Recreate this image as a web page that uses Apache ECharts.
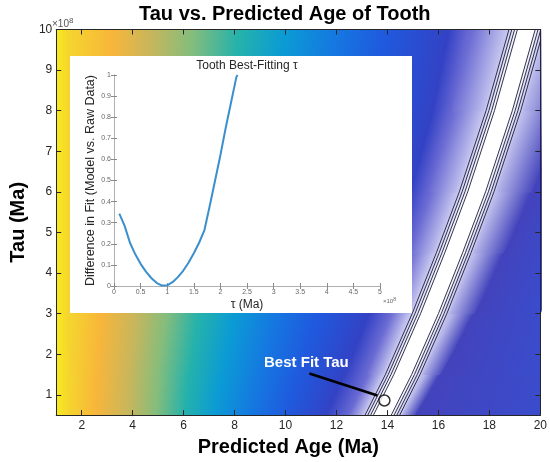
<!DOCTYPE html>
<html><head><meta charset="utf-8">
<script src="https://cdn.jsdelivr.net/npm/echarts/dist/echarts.min.js"></script>
<style>html,body{margin:0;padding:0;background:#fff}#c{width:550px;height:462px}</style>
</head><body><div id="c"></div>
<script>
// ---------- main panel: tick labels ----------
const xTicks = [2, 4, 6, 8, 10, 12, 14, 16, 18, 20];
const yTicks = [1, 2, 3, 4, 5, 6, 7, 8, 9, 10];

// ---------- colour field, read as iso-colour lines (x position at each tau) ----------
const tauSamples = [0.5, 1.5, 3, 4.5, 6, 8, 10];
const ridgeX = [13.8, 14.6, 15.65, 16.6, 17.5, 18.55, 19.45];
const levelColors = [
  '#f8ea1e', '#f5d52e', '#f8b63a', '#c8b65c', '#86bd7b', '#25b2ab', '#0b9bd4',
  '#1578e1', '#1f5ade', '#3342c5', '#6a6ad3', '#c2c2ee', '#ffffff', '#ffffff',
  '#b8b8ea', '#4343bc', '#3a4ccc'
];
const levelX = [
  [1, 1, 1, 1, 1, 1, 1],
  [1.5, 1.5, 1.5, 1.5, 1.5, 1.5, 1.5],
  [2.5, 2.6, 2.75, 2.9, 3.0, 3.1, 3.2],
  [3.8, 3.9, 4.1, 4.25, 4.4, 4.6, 4.7],
  [4.9, 5.0, 5.3, 5.6, 5.8, 6.1, 6.3],
  [6.0, 6.2, 6.6, 7.0, 7.4, 7.8, 8.2],
  [7.2, 7.5, 8.0, 8.5, 9.0, 9.5, 10.0],
  [8.6, 9.0, 9.6, 10.2, 10.8, 11.4, 12.0],
  [10.0, 10.5, 11.2, 11.9, 12.6, 13.3, 13.9],
  [11.6, 12.3, 13.3, 14.1, 14.9, 15.8, 16.4],
  [12.5, 13.2, 14.1, 14.9, 15.65, 16.55, 17.25],
  [13.05, 13.85, 14.9, 15.85, 16.75, 17.8, 18.7],
  [13.48, 14.28, 15.33, 16.28, 17.18, 18.23, 19.13],
  [14.12, 14.92, 15.97, 16.92, 17.82, 18.87, 19.77],
  [14.6, 15.4, 16.45, 17.4, 18.3, 19.35, 20.25],
  [15.1, 16.1, 17.45, 18.6, 19.7, 20.95, 22.05],
  [20, 20, 20, 20.6, 21.7, 23, 24]
];
// black contour lines around the best-fit ridge (x offset from ridge)
const contourOffsets = [-0.68, -0.57, -0.46, -0.35, 0.35, 0.46, 0.57, 0.68];
const bestFit = [13.88, 0.86];

// ---------- inset: Tooth Best-Fitting tau ----------
const insetTau = [0.1, 0.2, 0.3, 0.4, 0.5, 0.6, 0.7, 0.8, 0.9, 1.0, 1.1, 1.2, 1.3, 1.4, 1.5, 1.6, 1.7, 1.8, 1.9, 2.0, 2.1, 2.2, 2.3, 2.32];
const insetFit = [0.343, 0.285, 0.205, 0.15, 0.105, 0.068, 0.038, 0.015, 0.002, 0.003, 0.018, 0.042, 0.072, 0.11, 0.155, 0.205, 0.265, 0.38, 0.5, 0.62, 0.75, 0.87, 0.99, 1.0];
const insetXTicks = [0, 0.5, 1, 1.5, 2, 2.5, 3, 3.5, 4, 4.5, 5];
const insetYTicks = [0, 0.1, 0.2, 0.3, 0.4, 0.5, 0.6, 0.7, 0.8, 0.9, 1];

const FONT = '"Liberation Sans", Arial, Helvetica, sans-serif';
const AX = '#262626';

const bandData = [];
for (let i = 0; i < levelX.length - 1; i++) {
  for (let j = 0; j < tauSamples.length - 1; j++) {
    bandData.push([levelX[i][j], tauSamples[j], levelX[i][j + 1], tauSamples[j + 1], levelX[i + 1][j], levelX[i + 1][j + 1], i]);
  }
}

function renderBand(params, api) {
  const A0 = api.coord([api.value(0), api.value(1)]);
  const A1 = api.coord([api.value(2), api.value(3)]);
  const B0 = api.coord([api.value(4), api.value(1)]);
  const B1 = api.coord([api.value(5), api.value(3)]);
  const i = api.value(6);
  let dx = ((A1[0] - A0[0]) + (B1[0] - B0[0])) / 2;
  let dy = ((A1[1] - A0[1]) + (B1[1] - B0[1])) / 2;
  const len = Math.hypot(dx, dy) || 1; dx /= len; dy /= len;
  const nx = -dy, ny = dx;
  const mA = [(A0[0] + A1[0]) / 2, (A0[1] + A1[1]) / 2];
  const mB = [(B0[0] + B1[0]) / 2, (B0[1] + B1[1]) / 2];
  const proj = (mB[0] - mA[0]) * nx + (mB[1] - mA[1]) * ny;
  const grad = new echarts.graphic.LinearGradient(mA[0], mA[1], mA[0] + nx * proj, mA[1] + ny * proj,
    [{offset: 0, color: levelColors[i]}, {offset: 1, color: levelColors[i + 1]}], true);
  return {
    type: 'polygon',
    shape: {points: [A0, A1, B1, B0]},
    style: {fill: grad, stroke: grad, lineWidth: 1}
  };
}

const contourSeries = contourOffsets.map(off => ({
  type: 'line', xAxisIndex: 0, yAxisIndex: 0, z: 3, silent: true, symbol: 'none',
  clip: true,
  lineStyle: {color: '#1c1c3a', width: 0.9},
  data: tauSamples.map((t, j) => [ridgeX[j] + off, t])
}));

const chart = echarts.init(document.getElementById('c'), null, {renderer: 'canvas'});

const mainAxisCommon = {
  type: 'value', axisLine: {show: true, lineStyle: {color: AX, width: 1}},
  splitLine: {show: false}, z: 4
};

chart.setOption({
  animation: false,
  backgroundColor: '#ffffff',
  textStyle: {fontFamily: FONT},
  title: {
    text: 'Tau vs. Predicted Age of Tooth', left: 139, top: 4, padding: 0,
    textStyle: {fontFamily: FONT, fontSize: 20, fontWeight: 'bold', color: '#000'}
  },
  grid: [
    {left: 50, right: 6, top: 29.5, bottom: 43},
    {left: 114, top: 75, width: 266, height: 211}
  ],
  xAxis: [
    Object.assign({}, mainAxisCommon, {
      gridIndex: 0, position: 'bottom', min: 1, max: 20,
      axisTick: {show: true, inside: true, length: 5, customValues: xTicks, lineStyle: {color: AX}},
      axisLabel: {customValues: xTicks, color: AX, fontSize: 12, margin: 5, fontFamily: FONT},
      name: 'Predicted Age (Ma)', nameLocation: 'middle', nameGap: 19,
      nameTextStyle: {fontSize: 20, fontWeight: 'bold', color: '#000', fontFamily: FONT, padding: [0, 20, 0, 0]}
    }),
    Object.assign({}, mainAxisCommon, {
      gridIndex: 0, position: 'top', min: 1, max: 20,
      axisTick: {show: true, inside: true, length: 5, customValues: xTicks, lineStyle: {color: AX}},
      axisLabel: {show: false}
    }),
    {
      type: 'value', gridIndex: 1, position: 'bottom', min: 0, max: 5, interval: 0.5, z: 6,
      axisLine: {lineStyle: {color: '#b0b0b0', width: 1}},
      axisTick: {inside: true, length: 3, lineStyle: {color: '#8a8a8a'}},
      axisLabel: {color: '#666', fontSize: 7, margin: 3, fontFamily: FONT,
        formatter: v => insetXTicks.indexOf(v) >= 0 ? String(v) : ''},
      splitLine: {show: false},
      name: 'τ (Ma)', nameLocation: 'middle', nameGap: 13,
      nameTextStyle: {fontSize: 12, color: '#262626', fontFamily: FONT}
    },
    {
      type: 'value', gridIndex: 1, position: 'top', min: 0, max: 5, interval: 0.5, z: 6,
      axisLine: {lineStyle: {color: '#b0b0b0', width: 1}},
      axisTick: {inside: true, length: 3, lineStyle: {color: '#8a8a8a'}},
      axisLabel: {show: false}, splitLine: {show: false}
    }
  ],
  yAxis: [
    Object.assign({}, mainAxisCommon, {
      gridIndex: 0, position: 'left', min: 0.5, max: 10,
      axisTick: {show: true, inside: true, length: 5, customValues: yTicks, lineStyle: {color: AX}},
      axisLabel: {customValues: yTicks, color: AX, fontSize: 12, margin: 4, fontFamily: FONT},
      name: 'Tau (Ma)', nameLocation: 'middle', nameGap: 22, nameRotate: 90,
      nameTextStyle: {fontSize: 20, fontWeight: 'bold', color: '#000', fontFamily: FONT}
    }),
    Object.assign({}, mainAxisCommon, {
      gridIndex: 0, position: 'right', min: 0.5, max: 10,
      axisTick: {show: true, inside: true, length: 5, customValues: yTicks, lineStyle: {color: AX}},
      axisLabel: {show: false}
    }),
    {
      type: 'value', gridIndex: 1, position: 'left', min: 0, max: 1, interval: 0.1, z: 6,
      axisLine: {lineStyle: {color: '#b0b0b0', width: 1}},
      axisTick: {inside: true, length: 3, lineStyle: {color: '#8a8a8a'}},
      axisLabel: {color: '#666', fontSize: 7, margin: 3, fontFamily: FONT,
        formatter: v => String(Math.round(v * 10) / 10)},
      splitLine: {show: false},
      name: 'Difference in Fit (Model vs. Raw Data)', nameLocation: 'middle', nameGap: 17, nameRotate: 90,
      nameTextStyle: {fontSize: 12.5, color: '#262626', fontFamily: FONT}
    },
    {
      type: 'value', gridIndex: 1, position: 'right', min: 0, max: 1, interval: 0.1, z: 6,
      axisLine: {lineStyle: {color: '#b0b0b0', width: 1}},
      axisTick: {inside: true, length: 3, lineStyle: {color: '#8a8a8a'}},
      axisLabel: {show: false}, splitLine: {show: false}
    }
  ],
  series: [
    {
      type: 'custom', xAxisIndex: 0, yAxisIndex: 0, z: 1, silent: true, clip: true,
      renderItem: renderBand, data: bandData
    }
  ].concat(contourSeries).concat([
    {
      type: 'scatter', xAxisIndex: 0, yAxisIndex: 0, z: 4, silent: true,
      symbol: 'circle', symbolSize: 11,
      itemStyle: {color: '#fff', borderColor: '#000', borderWidth: 1.5},
      data: [bestFit]
    },
    {
      type: 'line', xAxisIndex: 2, yAxisIndex: 2, z: 7, silent: true, symbol: 'none',
      lineStyle: {color: '#3a8fcc', width: 2},
      data: insetTau.map((t, k) => [t, insetFit[k]])
    }
  ])
});

const p = chart.convertToPixel({xAxisIndex: 0, yAxisIndex: 0}, bestFit);
chart.setOption({
  graphic: {elements: [
    {type: 'rect', z: 5, silent: true, shape: {x: 70, y: 56, width: 342, height: 257}, style: {fill: '#fff'}},
    {type: 'text', z: 7, silent: true, x: 247, y: 66, style: {text: 'Tooth Best-Fitting τ', fill: '#262626', font: '12px ' + FONT, align: 'center', verticalAlign: 'middle'}},
    {type: 'text', z: 7, silent: true, x: 383, y: 297, style: {text: '×10{s|8}', fill: '#666', font: '6px ' + FONT, rich: {s: {fontSize: 5, verticalAlign: 'top', padding: [0, 0, 4, 0]}}}},
    {type: 'text', z: 6, silent: true, x: 52, y: 17, style: {text: '×10{s|8}', fill: '#555', font: '10px ' + FONT, rich: {s: {fontSize: 8, padding: [0, 0, 6, 0]}}}},
    {type: 'line', z: 6, silent: true, shape: {x1: p[0] - 75, y1: p[1] - 27, x2: p[0] - 7, y2: p[1] - 5}, style: {stroke: '#000', lineWidth: 2.5}},
    {type: 'text', z: 6, silent: true, x: p[0] - 78, y: p[1] - 38, style: {text: 'Best Fit Tau', fill: '#fff', font: 'bold 15px ' + FONT, align: 'center', verticalAlign: 'middle'}}
  ]}
});
</script></body></html>
